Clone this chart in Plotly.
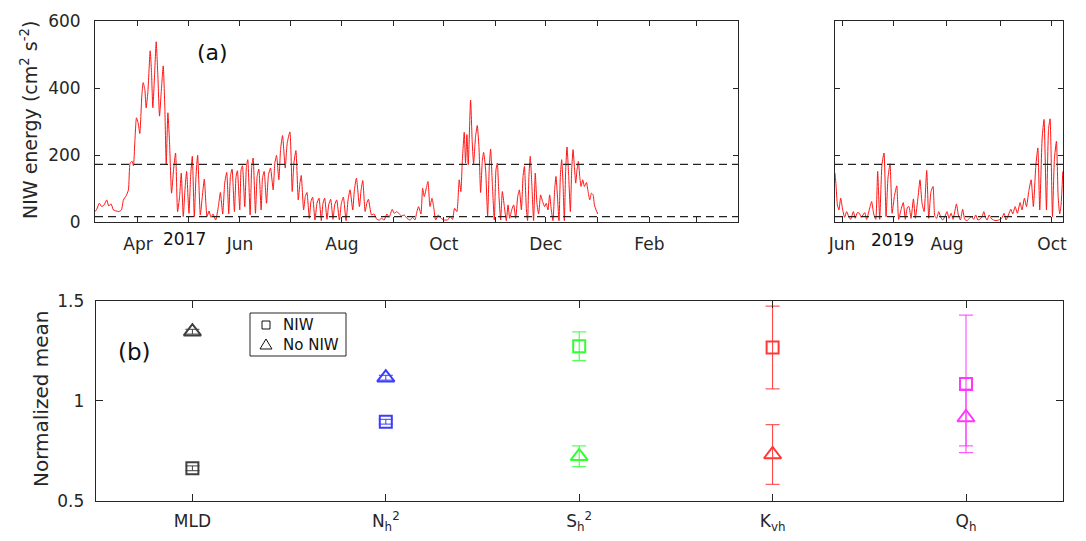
import plotly.graph_objects as go
import pandas as pd

# ---------------- panel (a): NIW energy, 2017 deployment ----------------
# days relative to 2017-04-01, energy in cm^2 s^-2
days_2017 = [
    -25.7, -24.7, -23.1, -21.7, -20.3, -18.7, -17.5, -16.1, -14.7, -13.1,
    -11.5, -9.9, -8.7, -7.1, -5.7, -4.7, -3.5, -2.7, -1.9, -0.9,
    0.1, 1.1, 2.3, 3.1, 4.1, 4.9, 5.9, 7.3, 8.1, 8.9,
    9.9, 10.9, 11.9, 12.9, 13.9, 15.1, 16.1, 16.9, 17.9, 18.9,
    20.1, 21.3, 22.5, 23.7, 24.9, 25.9, 27.1, 28.1, 29.1, 30.5,
    31.5, 32.5, 33.7, 34.7, 35.7, 37.3, 38.5, 39.7, 41.3, 42.5,
    43.7, 44.9, 46.5, 48.1, 49.3, 50.7, 51.9, 53.1, 54.3, 55.3,
    56.3, 57.7, 58.7, 59.5, 60.9, 61.7, 62.5, 63.9, 64.9, 65.7,
    67.1, 68.1, 68.9, 70.3, 71.3, 72.3, 73.7, 74.5, 75.5, 76.9,
    78.1, 79.3, 80.9, 81.9, 82.9, 84.3, 85.3, 86.5, 88.1, 89.3,
    90.9, 92.3, 93.3, 94.5, 95.9, 96.9, 97.7, 99.1, 100.1, 101.1,
    102.5, 103.5, 104.5, 105.9, 107.1, 108.3, 109.7, 110.7, 111.7, 113.1,
    114.1, 115.3, 116.7, 117.7, 118.9, 120.5, 121.7, 122.9, 124.5, 125.7,
    126.9, 128.5, 129.5, 130.7, 132.5, 133.5, 134.5, 135.9, 136.9, 137.9,
    139.7, 141.3, 142.9, 144.5, 145.7, 147.3, 148.9, 150.3, 152.1, 153.3,
    154.9, 156.3, 157.7, 159.3, 160.9, 162.9, 164.3, 165.7, 166.9, 167.9,
    169.3, 170.3, 171.3, 172.5, 173.5, 174.7, 175.9, 176.9, 178.1, 179.7,
    181.3, 183.2, 185.2, 186.8, 188.2, 189.4, 190.8, 192.2, 193.2, 194.0,
    195.2, 196.0, 196.8, 197.6, 199.0, 200.0, 200.8, 202.0, 203.0, 204.0,
    205.0, 206.0, 206.8, 208.0, 209.2, 210.2, 211.0, 212.0, 213.2, 214.2,
    215.0, 216.0, 217.0, 218.0, 219.2, 220.4, 221.4, 222.4, 223.6, 224.8,
    226.0, 227.2, 228.2, 229.4, 230.4, 231.2, 232.4, 233.1, 233.9, 234.7,
    235.7, 236.7, 237.7, 238.7, 239.7, 240.9, 242.1, 243.3, 244.3, 245.3,
    246.3, 247.3, 248.3, 249.3, 250.1, 251.1, 251.9, 252.7, 253.5, 254.3,
    255.1, 255.9, 256.7, 257.7, 258.7, 259.5, 260.3, 261.1, 261.9, 262.7,
    263.5, 264.3, 265.1, 266.1, 267.1, 268.3, 269.3, 270.3, 271.3, 272.3,
    273.1, 274.1, 275.1,
]
energy_2017 = [
    31, 38, 56, 46, 51, 66, 48, 54, 36, 33,
    31, 36, 66, 78, 96, 176, 181, 168, 236, 311,
    296, 264, 376, 416, 396, 341, 386, 511, 446, 341,
    436, 538, 436, 316, 386, 466, 336, 171, 326, 236,
    86, 156, 206, 31, 76, 146, 16, 96, 151, 26,
    136, 196, 16, 136, 199, 21, 76, 128, 16, 33,
    14, 24, 6, 46, 88, 24, 116, 148, 24, 136,
    158, 31, 136, 153, 36, 156, 168, 46, 166, 186,
    21, 166, 191, 26, 136, 158, 36, 131, 151, 56,
    141, 161, 96, 176, 199, 126, 216, 258, 161, 236,
    269, 91, 176, 213, 66, 116, 139, 36, 76, 88,
    11, 61, 74, 6, 56, 71, 4, 56, 71, 8,
    51, 68, 8, 51, 66, 6, 56, 74, 4, 66,
    96, 36, 96, 131, 46, 96, 124, 31, 56, 68,
    21, 24, 8, 6, 11, 6, 24, 14, 38, 26,
    31, 24, 18, 21, 11, 6, 14, 6, 31, 46,
    24, 101, 76, 101, 121, 46, 71, 46, 6, 21,
    11, 6, 6, 16, 8, 41, 31, 126, 91, 176,
    268, 176, 261, 171, 364, 236, 174, 256, 288, 226,
    88, 181, 208, 156, 18, 166, 218, 116, 6, 156,
    176, 76, 6, 91, 46, 4, 51, 11, 36, 51,
    11, 76, 96, 36, 136, 166, 36, 4, 136, 196,
    106, 4, 146, 56, 24, 81, 61, 46, 56, 36,
    81, 36, 4, 96, 136, 66, 4, 136, 186, 116,
    4, 156, 224, 136, 31, 156, 216, 166, 116, 156,
    181, 136, 106, 126, 106, 118, 91, 66, 86, 81,
    51, 36, 24,
]

# ---------------- panel (a): NIW energy, 2019 deployment ----------------
# days relative to 2019-06-01
days_2019 = [
    -4.1, -3.5, -2.7, -1.8, -0.8, 0.4, 1.5, 2.7, 3.9, 5.0,
    6.6, 7.7, 8.9, 10.1, 11.2, 13.2, 14.3, 16.3, 17.2, 18.4,
    19.6, 20.7, 21.9, 23.2, 24.4, 25.6, 26.7, 27.9, 29.1, 30.4,
    31.8, 32.9, 34.5, 35.6, 36.8, 38.0, 38.9, 40.1, 41.5, 42.6,
    44.2, 45.3, 46.5, 47.7, 49.2, 50.4, 51.7, 52.9, 53.9, 55.0,
    56.2, 57.4, 58.5, 59.9, 61.0, 62.2, 63.4, 64.5, 66.5, 67.6,
    68.8, 70.1, 71.3, 72.7, 74.0, 75.4, 76.5, 77.7, 78.9, 80.0,
    81.4, 82.4, 83.3, 84.3, 85.5, 86.6, 88.0, 89.5, 91.1, 92.8,
    94.2, 95.3, 96.7, 98.1, 99.2, 100.6, 101.9, 103.5, 104.6, 106.0,
    107.2, 108.5, 109.9, 111.2, 112.6, 113.8, 114.9, 116.3, 117.4, 118.8,
    120.0, 120.9, 122.3, 123.4, 124.6, 125.6, 126.5, 127.3, 128.3,
]
energy_2019 = [
    146, 111, 51, 36, 71, 36, 14, 31, 16, 8,
    31, 11, 28, 26, 14, 28, 8, 46, 61, 24,
    8, 151, 8, 171, 206, 16, 131, 174, 26, 76,
    108, 8, 41, 58, 8, 44, 46, 11, 69, 11,
    76, 126, 56, 31, 154, 11, 91, 106, 18, 11,
    31, 14, 6, 18, 31, 11, 26, 8, 54, 21,
    6, 38, 8, 4, 11, 16, 8, 21, 6, 8,
    16, 31, 14, 6, 21, 11, 6, 4, 6, 11,
    26, 6, 21, 38, 24, 46, 26, 58, 36, 71,
    46, 91, 126, 46, 166, 221, 36, 251, 306, 36,
    276, 308, 16, 186, 241, 76, 24, 51, 151,
]

thresholds = [172, 16]          # dashed reference levels

ticks_2017 = ["2017-04-01", "2017-05-01", "2017-06-01", "2017-07-01", "2017-08-01", "2017-09-01",
              "2017-10-01", "2017-11-01", "2017-12-01", "2018-01-01", "2018-02-01", "2018-03-01"]
labels_2017 = ["Apr", "", "Jun", "", "Aug", "", "Oct", "", "Dec", "", "Feb", ""]
ticks_2019 = ["2019-06-01", "2019-07-01", "2019-08-01", "2019-09-01", "2019-10-01"]
labels_2019 = ["Jun", "", "Aug", "", "Oct"]

# ---------------- panel (b): normalized means ----------------
categories = ["MLD", "N<sub>h</sub><sup>2</sup>", "S<sub>h</sub><sup>2</sup>",
              "K<sub>vh</sub>", "Q<sub>h</sub>"]
niw_mean = [0.662, 0.895, 1.272, 1.266, 1.084]
niw_err = [0.012, 0.012, 0.072, 0.207, 0.344]
noniw_mean = [1.345, 1.115, 0.722, 0.731, 0.916]
noniw_err = [0.012, 0.012, 0.052, 0.149, 0.142]
cat_colors = ["rgb(64,64,64)", "rgb(60,60,255)", "rgb(50,255,50)",
              "rgb(255,55,55)", "rgb(255,55,255)"]
legend_names = ["NIW", "No NIW"]

# ---------------- figure ----------------
W, H = 1086, 541
FONT = "DejaVu Sans"
AX = "#262626"


def fx(p):
    return p / W


def fy(p):
    return 1 - p / H


fig = go.Figure()

t2017 = pd.Timestamp("2017-04-01") + pd.to_timedelta(days_2017, unit="D")
t2019 = pd.Timestamp("2019-06-01") + pd.to_timedelta(days_2019, unit="D")

fig.add_trace(go.Scatter(x=t2017, y=energy_2017, mode="lines",
                         line=dict(color="rgb(255,20,20)", width=1, shape="spline", smoothing=0.5),
                         xaxis="x", yaxis="y", showlegend=False, hoverinfo="skip"))
fig.add_trace(go.Scatter(x=t2019, y=energy_2019, mode="lines",
                         line=dict(color="rgb(255,20,20)", width=1, shape="spline", smoothing=0.5),
                         xaxis="x2", yaxis="y2", showlegend=False, hoverinfo="skip"))

shapes = []
for xr, yr in (("x domain", "y"), ("x2 domain", "y2")):
    for lev in thresholds:
        shapes.append(dict(type="line", xref=xr, yref=yr, x0=0, x1=1, y0=lev, y1=lev,
                           line=dict(color="#222222", width=1.2, dash="8px,5px")))

for i, cat in enumerate(categories):
    fig.add_trace(go.Scatter(
        x=[cat], y=[niw_mean[i]], mode="markers", name=legend_names[0],
        marker=dict(symbol="square-open", size=12, color=cat_colors[i],
                    line=dict(width=2, color=cat_colors[i])),
        error_y=dict(type="data", array=[niw_err[i]], color=cat_colors[i],
                     thickness=1, width=7),
        xaxis="x3", yaxis="y3", showlegend=False))
    fig.add_trace(go.Scatter(
        x=[cat], y=[noniw_mean[i]], mode="markers", name=legend_names[1],
        marker=dict(symbol="triangle-up-open", size=15, color=cat_colors[i],
                    line=dict(width=2, color=cat_colors[i])),
        error_y=dict(type="data", array=[noniw_err[i]], color=cat_colors[i],
                     thickness=1, width=7),
        xaxis="x3", yaxis="y3", showlegend=False))

common = dict(showline=True, linecolor=AX, linewidth=1, mirror="ticks", ticks="inside",
              tickcolor=AX, tickwidth=1, showgrid=False, zeroline=False,
              automargin=False, tickfont=dict(family=FONT, size=17, color=AX))


def note(text, px, py, size, color="#111111", angle=0, xanchor="center"):
    return dict(text=text, x=fx(px), y=fy(py), xref="paper", yref="paper",
                xanchor=xanchor, yanchor="middle", textangle=angle,
                showarrow=False, font=dict(family=FONT, size=size, color=color))


# legend box with its two key symbols
shapes.append(dict(type="rect", xref="paper", yref="paper",
                   x0=fx(250), x1=fx(346), y0=fy(356), y1=fy(313),
                   line=dict(color=AX, width=1), fillcolor="white", layer="above"))
shapes.append(dict(type="rect", xref="paper", yref="paper",
                   x0=fx(262), x1=fx(270), y0=fy(329), y1=fy(321),
                   line=dict(color="#111111", width=1), layer="above"))
tri = "M {:.5f},{:.5f} L {:.5f},{:.5f} L {:.5f},{:.5f} Z".format(
    fx(260), fy(349), fx(272), fy(349), fx(266), fy(339))
shapes.append(dict(type="path", xref="paper", yref="paper", path=tri,
                   line=dict(color="#111111", width=1), layer="above"))
legend_notes = [note(name, 281, 325 + 20 * k, 15, "#111111", xanchor="left")
                for k, name in enumerate(legend_names)]

fig.update_layout(
    width=W, height=H, autosize=False, template="none",
    paper_bgcolor="white", plot_bgcolor="white",
    margin=dict(l=0, r=0, t=0, b=0),
    font=dict(family=FONT, color=AX),
    xaxis=dict(domain=[fx(95), fx(738)], anchor="y", type="date",
               range=["2017-03-06 07:00", "2018-03-26 00:00"],
               tickmode="array", tickvals=ticks_2017, ticktext=labels_2017,
               ticklen=5, ticklabelstandoff=7, **common),
    yaxis=dict(domain=[fy(222), fy(21)], anchor="x", range=[0, 600],
               tickmode="array", tickvals=[0, 200, 400, 600], ticklen=5,
               ticklabelstandoff=10, **common),
    xaxis2=dict(domain=[fx(835), fx(1063)], anchor="y2", type="date",
                range=["2019-05-27 22:00", "2019-10-07 10:00"],
                tickmode="array", tickvals=ticks_2019, ticktext=labels_2019,
                ticklen=5, ticklabelstandoff=7, **common),
    yaxis2=dict(domain=[fy(222), fy(21)], anchor="x2", range=[0, 600],
                tickmode="array", tickvals=[0, 200, 400, 600], ticklen=5,
                showticklabels=False, **common),
    xaxis3=dict(domain=[fx(95.7), fx(1062.7)], anchor="y3", type="category",
                categoryorder="array", categoryarray=categories,
                range=[-0.5, len(categories) - 0.5], ticklen=7,
                ticklabelstandoff=5, **common),
    yaxis3=dict(domain=[fy(500.7), fy(300.7)], anchor="x3", range=[0.5, 1.5],
                tickmode="array", tickvals=[0.5, 1, 1.5], ticktext=["0.5", "1", "1.5"],
                ticklen=7, ticklabelstandoff=7, **common),
    shapes=shapes,
    showlegend=False,
    annotations=[
        note("(a)", 212, 52, 22),
        note("(b)", 134, 352, 23),
        note("2017", 184, 239, 17),
        note("2019", 892, 240, 17),
        note("NIW energy (cm<sup>2</sup> s<sup>-2</sup>)", 29, 120, 19, AX, -90),
        note("Normalized mean", 41, 399, 20, AX, -90),
    ] + legend_notes,
)

fig.write_html("out.html", config={"displayModeBar": False},
               post_script="document.body.style.margin='0';document.body.style.padding='0';")
